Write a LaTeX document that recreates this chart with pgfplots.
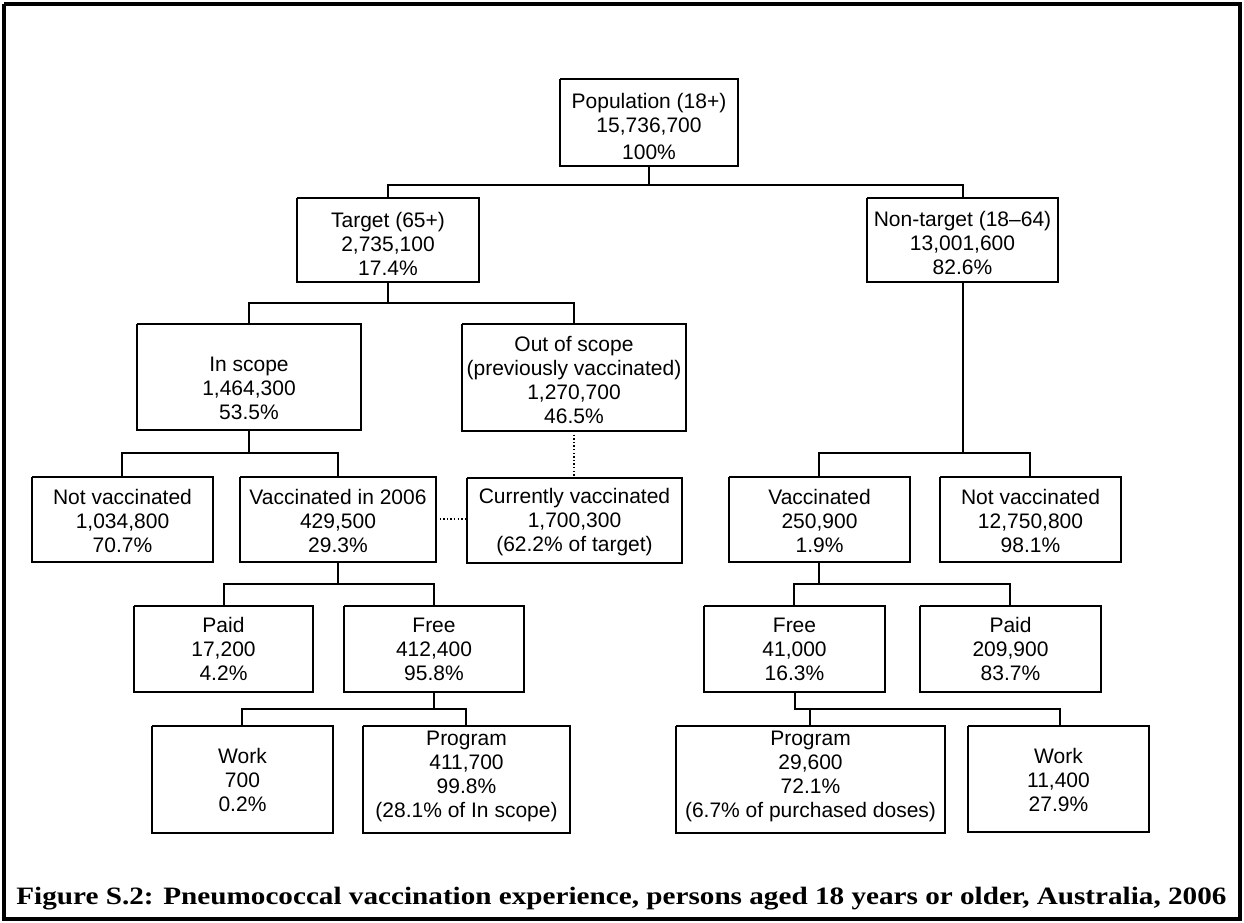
\documentclass[border=0pt]{standalone}
\usepackage{fontspec}
\setmainfont{Liberation Sans}
\newfontfamily\capfont{Liberation Serif}
\usepackage{graphicx}
\usepackage{pgfplots}
\pgfplotsset{compat=1.18}
\newcommand{\bx}[4]{\addplot[boxst] coordinates {(#1,#3) (#2,#3) (#2,#4) (#1,#4) (#1,#3)};}
\newcommand{\lab}{\fontsize{10.5}{12}\selectfont}
\tikzset{
  boxst/.style={black, line width=0.8pt, mark=none, sharp plot, line join=miter},
  conn/.style={black, line width=0.55pt, mark=none, sharp plot, line join=miter},
  dots/.style={black, line width=0.7pt, mark=none, sharp plot, dash pattern=on 0.7pt off 1.1pt},
  tx/.style={align=center, font=\lab, text=black, inner sep=0pt},
}
\begin{document}
\begin{tikzpicture}
\begin{axis}[
  scale only axis, width=622pt, height=461pt,
  xmin=0, xmax=1244, ymin=0, ymax=922, y dir=reverse,
  hide axis, clip=false,
]
% invisible full-page extent
\addplot[draw=none, mark=none] coordinates {(0,0) (1244,922)};
% outer frame
\addplot[black, line width=1.7pt, mark=none, line join=miter] coordinates {(4,4) (1240,4) (1240,919) (4,919) (4,4)};

% ---- connectors ----
\addplot[conn] coordinates {(649,166) (649,185)};
\addplot[conn] coordinates {(388,198) (388,185) (963,185) (963,198)};
\addplot[conn] coordinates {(388,282) (388,303)};
\addplot[conn] coordinates {(249,324) (249,303) (574,303) (574,324)};
\addplot[conn] coordinates {(249,430) (249,453)};
\addplot[conn] coordinates {(122,477) (122,453) (338,453) (338,477)};
\addplot[conn] coordinates {(963,282) (963,453)};
\addplot[conn] coordinates {(819,477) (819,453) (1030,453) (1030,477)};
\addplot[conn] coordinates {(338,562) (338,584)};
\addplot[conn] coordinates {(224,606) (224,584) (434,584) (434,606)};
\addplot[conn] coordinates {(819,562) (819,584)};
\addplot[conn] coordinates {(794,606) (794,584) (1010,584) (1010,606)};
\addplot[conn] coordinates {(434,692) (434,709)};
\addplot[conn] coordinates {(242,726) (242,709) (466,709) (466,726)};
\addplot[conn] coordinates {(795,692) (795,709) (1060,709) (1060,726)};
\addplot[conn] coordinates {(810,709) (810,726)};
% dotted links
\addplot[dots] coordinates {(574,431) (574,478)};
\addplot[dots] coordinates {(436,519) (467,519)};

% ---- boxes ----
\bx{560}{738}{79}{166}
\bx{297}{479}{198}{282}
\bx{867}{1058}{198}{282}
\bx{137}{361}{324}{430}
\bx{462}{686}{324}{431}
\bx{32}{213}{477}{562}
\bx{240}{436}{477}{562}
\bx{467}{682}{478}{563}
\bx{729}{910}{477}{562}
\bx{940}{1121}{477}{562}
\bx{134}{313}{606}{692}
\bx{344}{524}{606}{692}
\bx{704}{885}{606}{692}
\bx{920}{1101}{606}{692}
\bx{152}{333}{726}{833}
\bx{363}{570}{726}{833}
\bx{676}{945}{726}{833}
\bx{968}{1149}{726}{832}

% ---- labels ----
\node[tx] at (axis cs:649,126) {Population (18+)\\15,736,700\\[1.5pt]100\%};
\node[tx] at (axis cs:388,243.5) {Target (65+)\\2,735,100\\17.4\%};
\node[tx] at (axis cs:962.5,243) {Non-target (18--64)\\13,001,600\\82.6\%};
\node[tx] at (axis cs:249,388) {In scope\\1,464,300\\53.5\%};
\node[tx] at (axis cs:574,380) {Out of scope\\(previously vaccinated)\\1,270,700\\46.5\%};
\node[tx] at (axis cs:122.5,521) {Not vaccinated\\1,034,800\\70.7\%};
\node[tx] at (axis cs:338,521) {Vaccinated in 2006\\429,500\\29.3\%};
\node[tx] at (axis cs:574.5,522) {Currently vaccinated\\1,700,300\\(62.2\% of target)};
\node[tx] at (axis cs:819.5,521) {Vaccinated\\250,900\\1.9\%};
\node[tx] at (axis cs:1030.5,521) {Not vaccinated\\12,750,800\\98.1\%};
\node[tx] at (axis cs:223.5,649) {Paid\\17,200\\4.2\%};
\node[tx] at (axis cs:434,649) {Free\\412,400\\95.8\%};
\node[tx] at (axis cs:794.5,649) {Free\\41,000\\16.3\%};
\node[tx] at (axis cs:1010.5,649) {Paid\\209,900\\83.7\%};
\node[tx] at (axis cs:242.5,780) {Work\\700\\0.2\%};
\node[tx] at (axis cs:466.5,776) {Program\\411,700\\99.8\%\\(28.1\% of In scope)};
\node[tx] at (axis cs:810.5,776) {Program\\29,600\\72.1\%\\(6.7\% of purchased doses)};
\node[tx] at (axis cs:1058.5,780) {Work\\11,400\\27.9\%};

% caption
\node[anchor=base west, inner sep=0pt] at (axis cs:16,904)
  {\resizebox{605pt}{\height}{\capfont\fontsize{12.5}{14}\selectfont\bfseries Figure S.2: Pneumococcal vaccination experience, persons aged 18 years or older, Australia, 2006}};
\end{axis}
\end{tikzpicture}
\end{document}
